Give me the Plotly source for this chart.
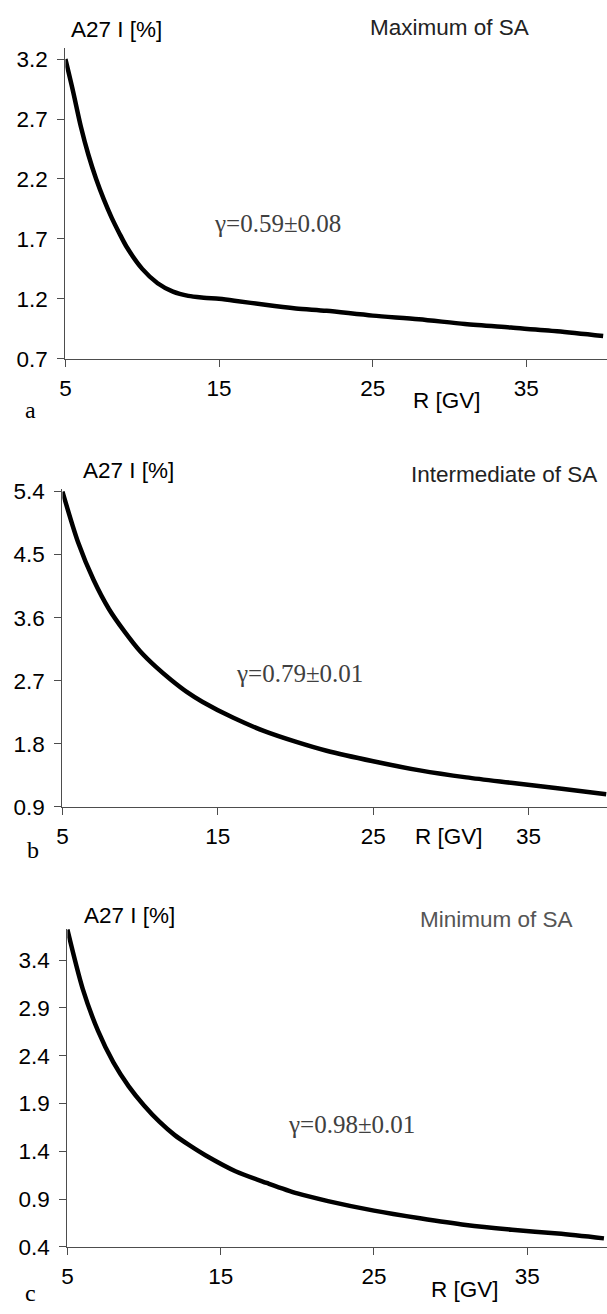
import plotly.graph_objects as go

# ---- data ----
R_a = [5, 5.5, 6, 6.5, 7, 7.5, 8, 8.5, 9, 10, 11, 12, 13, 14, 15, 16, 18, 20, 22, 25, 28, 31, 34, 37, 40]
I_a = [3.2, 2.93, 2.64, 2.40, 2.2, 2.03, 1.88, 1.75, 1.63, 1.45, 1.33, 1.26, 1.225, 1.21, 1.20, 1.185,
       1.15, 1.12, 1.10, 1.06, 1.03, 0.99, 0.96, 0.93, 0.89]

R_b = [5, 6, 7, 8, 9, 10, 11, 12, 13, 14, 16, 18, 20, 22, 25, 28, 31, 34, 37, 40]
I_b = [5.40, 4.68, 4.14, 3.72, 3.40, 3.12, 2.90, 2.71, 2.54, 2.40, 2.17, 1.98, 1.83, 1.70, 1.55, 1.42,
       1.32, 1.24, 1.16, 1.08]

R_c = [5, 6, 7, 8, 9, 10, 11, 12, 13, 14, 16, 18, 20, 22, 25, 28, 31, 34, 37, 40]
I_c = [3.72, 3.10, 2.66, 2.33, 2.08, 1.88, 1.71, 1.57, 1.46, 1.36, 1.19, 1.07, 0.96, 0.88, 0.78, 0.70,
       0.63, 0.58, 0.54, 0.49]

x_ticks = [5, 15, 25, 35]
y_ticks_a = [0.7, 1.2, 1.7, 2.2, 2.7, 3.2]
y_ticks_b = [0.9, 1.8, 2.7, 3.6, 4.5, 5.4]
y_ticks_c = [0.4, 0.9, 1.4, 1.9, 2.4, 2.9, 3.4]

titles = ["Maximum of SA", "Intermediate of SA", "Minimum of SA"]
gammas = ["γ=0.59±0.08", "γ=0.79±0.01", "γ=0.98±0.01"]
letters = ["a", "b", "c"]
y_title = "A27 I [%]"
x_title = "R [GV]"

W, H = 607, 1314
SANS = "Arial, Liberation Sans, sans-serif"
SERIF = "Times New Roman, Liberation Serif, serif"
AX = "#4d4d4d"
FS = 22.5

def px(x):
    return x / W

def py(y):
    return 1 - y / H

fig = go.Figure()

panels = [
    dict(R=R_a, I=I_a, yt=y_ticks_a, left=60, bottom=355, top=39, xr=[5, 40.25], yr=[0.7, 3.29]),
    dict(R=R_b, I=I_b, yt=y_ticks_b, left=57, bottom=811, top=488, xr=[5, 40.05], yr=[0.9, 5.43]),
    dict(R=R_c, I=I_c, yt=y_ticks_c, left=62, bottom=1259, top=935, xr=[5, 40.2], yr=[0.4, 3.73]),
]

for i, p in enumerate(panels):
    n = "" if i == 0 else str(i + 1)
    fig.add_trace(go.Scatter(x=p["R"], y=p["I"], mode="lines",
                             line=dict(color="black", width=4.5, shape="spline", smoothing=0.8),
                             xaxis="x" + n, yaxis="y" + n, showlegend=False, hoverinfo="skip"))
    fig.layout["xaxis" + n] = dict(
        domain=[px(p["left"]), 1], range=p["xr"], anchor="y" + n,
        tickvals=x_ticks, ticktext=[str(v) for v in x_ticks],
        showline=True, linecolor=AX, linewidth=1.3, ticks="outside", ticklen=7, tickcolor=AX,
        tickwidth=1.3, showgrid=False, zeroline=False, ticklabelstandoff=2,
        tickfont=dict(family=SANS, size=FS, color="black"))
    fig.layout["yaxis" + n] = dict(
        domain=[py(p["bottom"]), py(p["top"])], range=p["yr"], anchor="x" + n,
        tickvals=p["yt"], ticktext=["%.1f" % v for v in p["yt"]],
        showline=True, linecolor=AX, linewidth=1.3, ticks="outside", ticklen=7, tickcolor=AX,
        tickwidth=1.3, showgrid=False, zeroline=False, ticklabelstandoff=5,
        tickfont=dict(family=SANS, size=FS, color="black"))

ann_pos = [
    dict(yt=(112, 20), t=(448, 18), g=(274, 217), xt=(445, 397), l=(25, 407)),
    dict(yt=(124, 469), t=(503, 473), g=(296, 675), xt=(447, 841), l=(27, 855)),
    dict(yt=(125, 922), t=(495, 926), g=(349, 1134), xt=(464, 1302), l=(25, 1306)),
]
title_colors = ["#222222", "#222222", "#555555"]

for i, a in enumerate(ann_pos):
    items = [
        (y_title, a["yt"], SANS, FS, "black"),
        (titles[i], a["t"], SANS, FS, title_colors[i]),
        (gammas[i], a["g"], SERIF, 25, "#404040"),
        (x_title, a["xt"], SANS, FS, "black"),
        (letters[i], a["l"], SERIF, 24, "black"),
    ]
    for text, (x, y), fam, size, col in items:
        fig.add_annotation(text=text, x=px(x), y=py(y), xref="paper", yref="paper",
                           xanchor="center", yanchor="middle", showarrow=False,
                           font=dict(family=fam, size=size, color=col))

fig.update_layout(width=W, height=H, margin=dict(l=0, r=0, t=0, b=0),
                  paper_bgcolor="white", plot_bgcolor="white")

fig.write_html("out.html")
